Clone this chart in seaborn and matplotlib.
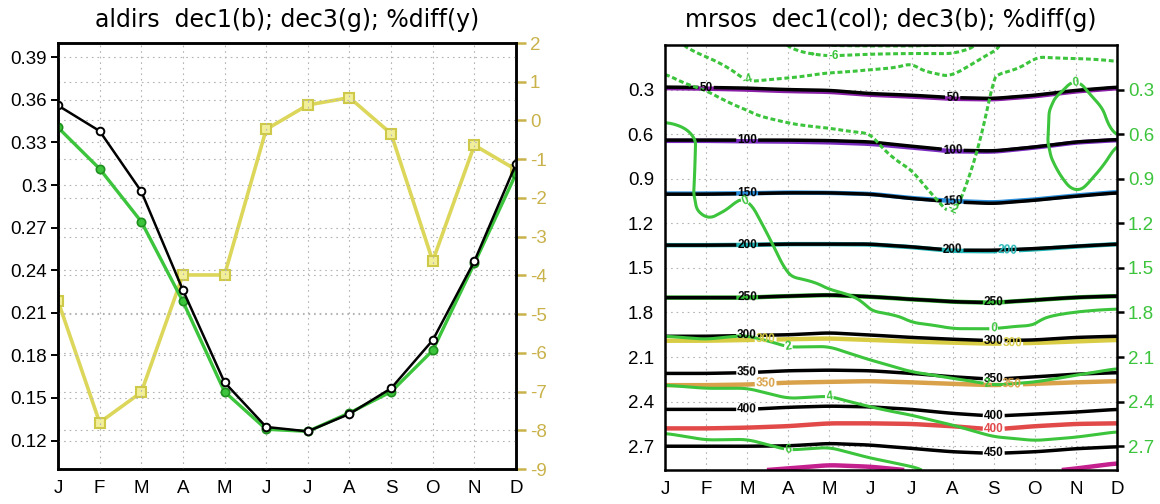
import numpy as np
import pandas as pd
import seaborn as sns
import matplotlib
matplotlib.use("Agg")
import matplotlib.pyplot as plt

# ---------------- data ----------------
months = ["J", "F", "M", "A", "M", "J", "J", "A", "S", "O", "N", "D"]

# left panel: aldirs
aldirs_dec1 = [0.356, 0.338, 0.2955, 0.226, 0.161, 0.1296, 0.1265, 0.1388, 0.1568, 0.1907, 0.2463, 0.3149]
aldirs_dec3 = [0.3405, 0.3114, 0.2742, 0.218, 0.1544, 0.128, 0.1265, 0.1395, 0.1544, 0.1835, 0.2448, 0.3079]
aldirs_pctdiff = [-4.66, -7.80, -7.02, -3.99, -3.99, -0.23, 0.40, 0.59, -0.34, -3.63, -0.64, -1.27]
left_yticks = [0.12, 0.15, 0.18, 0.21, 0.24, 0.27, 0.30, 0.33, 0.36, 0.39]
right_yticks = [-9, -8, -7, -6, -5, -4, -3, -2, -1, 0, 1, 2]

# right panel: mrsos contour levels and the depth at which each level lies, per month
mrsos_levels = [50, 100, 150, 200, 250, 300, 350, 400, 450]
dec3_depth = [
    [0.283, 0.285, 0.290, 0.300, 0.305, 0.327, 0.338, 0.354, 0.360, 0.338, 0.305, 0.283],
    [0.640, 0.640, 0.640, 0.640, 0.643, 0.652, 0.681, 0.708, 0.713, 0.686, 0.652, 0.636],
    [1.004, 1.004, 1.000, 0.995, 0.995, 1.004, 1.033, 1.056, 1.067, 1.045, 1.018, 0.995],
    [1.347, 1.347, 1.345, 1.340, 1.340, 1.340, 1.358, 1.381, 1.381, 1.370, 1.354, 1.340],
    [1.700, 1.700, 1.700, 1.690, 1.683, 1.695, 1.712, 1.728, 1.735, 1.717, 1.699, 1.690],
    [1.960, 1.960, 1.955, 1.950, 1.937, 1.952, 1.968, 1.980, 1.990, 1.985, 1.968, 1.960],
    [2.210, 2.210, 2.205, 2.192, 2.188, 2.192, 2.210, 2.233, 2.250, 2.233, 2.215, 2.205],
    [2.452, 2.452, 2.452, 2.438, 2.430, 2.435, 2.452, 2.479, 2.497, 2.484, 2.470, 2.452],
    [2.700, 2.700, 2.700, 2.697, 2.681, 2.692, 2.714, 2.737, 2.748, 2.737, 2.716, 2.703],
]
dec1_depth = [
    [0.290, 0.293, 0.300, 0.310, 0.315, 0.335, 0.347, 0.362, 0.366, 0.345, 0.312, 0.290],
    [0.645, 0.645, 0.648, 0.650, 0.655, 0.665, 0.690, 0.716, 0.718, 0.690, 0.656, 0.640],
    [1.000, 1.000, 0.998, 0.993, 0.995, 1.002, 1.030, 1.050, 1.060, 1.040, 1.013, 0.990],
    [1.347, 1.347, 1.345, 1.340, 1.340, 1.342, 1.360, 1.385, 1.388, 1.375, 1.356, 1.340],
    [1.700, 1.700, 1.700, 1.690, 1.683, 1.695, 1.712, 1.728, 1.735, 1.717, 1.699, 1.690],
    [1.990, 1.990, 1.985, 1.980, 1.975, 1.985, 1.995, 2.003, 2.010, 2.005, 1.995, 1.985],
    [2.289, 2.289, 2.285, 2.272, 2.267, 2.262, 2.270, 2.280, 2.289, 2.280, 2.270, 2.262],
    [2.580, 2.580, 2.575, 2.565, 2.546, 2.546, 2.550, 2.565, 2.587, 2.565, 2.550, 2.546],
    [2.900, 2.890, 2.870, 2.849, 2.827, 2.838, 2.865, 2.900, 2.920, 2.880, 2.850, 2.815],
]
dec1_colors = ["#8a1fa8", "#7a2cc0", "#2a8fdc", "#1fb3b3", "#35c035",
               "#d9cc45", "#d9a24a", "#e24a4a", "#c4208e"]

# %diff profiles: (depth, value) knots per month
pdiff_J = [(0, -3.4), (0.19, -2), (0.52, 0), (0.65, 0.8), (1.0, 0.5), (1.968, 2), (2.289, 4), (2.613, 6), (2.86, 7.5)]
pdiff_F = [(0, -4.8), (0.08, -4), (0.305, -2), (0.5, -0.3), (1.1, -0.2), (1.18, 0), (1.986, 2), (2.31, 4), (2.658, 6), (2.86, 7.2)]
pdiff_M = [(0, -5.5), (0.25, -4), (0.44, -2), (1.022, 0), (1.96, 2), (2.31, 4), (2.654, 6), (2.86, 7.2)]
pdiff_A = [(0, -6.0), (0.22, -4), (0.518, -2), (1.56, 0), (2.035, 2), (2.378, 4), (2.726, 6), (2.86, 6.8)]
pdiff_May = [(0, -8.2), (0.01, -8), (0.07, -6), (0.18, -4), (0.553, -2), (1.65, 0), (2.03, 2), (2.363, 4), (2.708, 6), (2.86, 6.9)]
pdiff_Jun = [(0, -8.3), (0.013, -8), (0.057, -6), (0.157, -4), (0.59, -2), (1.796, 0), (2.12, 2), (2.434, 4), (2.78, 6), (2.86, 6.5)]
pdiff_Jul = [(0, -8.3), (0.013, -8), (0.057, -6), (0.103, -4), (0.84, -2), (1.874, 0), (2.2, 2), (2.49, 4), (2.838, 6), (2.86, 6.15)]
pdiff_Aug = [(0, -8.1), (0.012, -8), (0.05, -6), (0.204, -4), (1.157, -2), (1.914, 0), (2.244, 2), (2.557, 4), (2.86, 5.7)]
pdiff_S = [(0, -4.3), (0.04, -4), (0.2, -2), (1.0, -1.0), (1.919, 0), (2.289, 2), (2.636, 4), (2.86, 5.3)]
pdiff_O = [(0, -2.4), (0.08, -2), (0.35, -0.6), (0.65, -0.4), (1.0, -0.8), (1.896, 0), (2.267, 2), (2.663, 4), (2.86, 5.2)]
pdiff_N = [(0, -2.4), (0.1, -2), (0.215, 0), (0.45, 1.0), (0.75, 0.8), (0.998, 0), (1.4, -0.5), (1.806, 0), (2.222, 2), (2.64, 4), (2.86, 5.2)]
pdiff_D = [(0, -2.4), (0.115, -2), (0.4, -0.6), (0.64, 0.05), (0.9, -0.5), (1.3, -0.8), (1.784, 0), (2.177, 2), (2.603, 4), (2.86, 5.3)]
pdiff_levels = [-8, -6, -4, -2, 0, 2, 4, 6]
depth_ticks = [0.3, 0.6, 0.9, 1.2, 1.5, 1.8, 2.1, 2.4, 2.7]

# ---------------- style ----------------
sns.set_style("white")
plt.rcParams["font.family"] = ["Liberation Sans", "DejaVu Sans"]
plt.rcParams["text.color"] = "black"
plt.rcParams["xtick.color"] = "black"
plt.rcParams["ytick.color"] = "black"
plt.rcParams["xtick.labelcolor"] = "black"
plt.rcParams["ytick.labelcolor"] = "black"

YEL = "#dcd75a"
YEL_TXT = "#c9b24a"
GRN = "#3cc43c"
GRID = dict(color="#b4b4b4", linestyle=(0, (1.5, 3.5)), linewidth=0.8)

fig = plt.figure(figsize=(11.6, 5.04), dpi=100)
axL = fig.add_axes([58 / 1160, 35 / 504, 458 / 1160, 426 / 504])
axR = fig.add_axes([665 / 1160, 34 / 504, 452 / 1160, 425 / 504])

mo = np.arange(12)

# ---------------- left panel ----------------
ax2 = axL.twinx()
axL.set_zorder(ax2.get_zorder() + 1)
axL.patch.set_visible(False)

df = pd.DataFrame({"m": mo, "dec1": aldirs_dec1, "dec3": aldirs_dec3, "pd": aldirs_pctdiff})
sns.lineplot(data=df, x="m", y="pd", ax=ax2, color=YEL, lw=2.6, marker="s",
             markersize=6.5, markerfacecolor="#f2ef9a", markeredgecolor="#cfc94a", markeredgewidth=1.5)
sns.lineplot(data=df, x="m", y="dec3", ax=axL, color=GRN, lw=2.4, marker="o",
             markersize=6, markerfacecolor=GRN, markeredgecolor="#1f8f1f", markeredgewidth=1.2)
sns.lineplot(data=df, x="m", y="dec1", ax=axL, color="black", lw=1.8, marker="o",
             markersize=5.5, markerfacecolor="white", markeredgecolor="black", markeredgewidth=1.4)

axL.set_xlim(0, 11)
axL.set_ylim(0.10, 0.40)
ax2.set_ylim(-9, 2)
axL.set_xticks(mo)
axL.set_xticklabels(months)
axL.set_yticks(left_yticks)
axL.set_yticklabels([f"{v:g}" for v in left_yticks])
ax2.set_yticks(right_yticks)
ax2.set_yticklabels([str(v) for v in right_yticks])
axL.set_xlabel("")
axL.set_ylabel("")
ax2.set_ylabel("")
axL.grid(True, **GRID)
ax2.grid(True, axis="y", **GRID)
ax2.grid(False, axis="x")
axL.tick_params(axis="both", direction="out", length=5, width=1.4, labelsize=13.5,
                colors="black", labelcolor="black", pad=3)
ax2.tick_params(axis="y", direction="out", length=7, width=1.8, labelsize=13.5,
                colors=YEL_TXT, labelcolor=YEL_TXT, pad=3)
for a in (axL, ax2):
    for s in a.spines.values():
        s.set_linewidth(1.8)
        s.set_color("black")

# ---------------- right panel ----------------
fine_m = np.linspace(0, 11, 221)
fine_d = np.linspace(0.0, 2.86, 287)


def smooth_rows(F, w):
    k = np.ones(w) / w
    pad = w // 2
    out = np.empty_like(F)
    for i in range(F.shape[0]):
        r = np.pad(F[i], pad, mode="edge")
        out[i] = np.convolve(r, k, mode="valid")
    return out


def level_field(depth_rows):
    D = np.array(depth_rows)
    cols = []
    for j in range(12):
        xp = np.concatenate([[0.0], D[:, j], [D[-1, j] + 0.3]])
        fp = np.concatenate([[0.0], mrsos_levels, [mrsos_levels[-1] + 50]])
        cols.append(np.interp(fine_d, xp, fp))
    C = np.array(cols).T
    F = np.array([np.interp(fine_m, mo, row) for row in C])
    return smooth_rows(F, 9)


def diff_field(profiles):
    cols = []
    for prof in profiles:
        xp = [p[0] for p in prof]
        fp = [p[1] for p in prof]
        cols.append(np.interp(fine_d, xp, fp))
    C = np.array(cols).T
    F = np.array([np.interp(fine_m, mo, row) for row in C])
    F = smooth_rows(F, 9)
    F = smooth_rows(F.T, 5).T
    return F


F1 = level_field(dec1_depth)
F3 = level_field(dec3_depth)
Fd = diff_field([pdiff_J, pdiff_F, pdiff_M, pdiff_A, pdiff_May, pdiff_Jun,
                 pdiff_Jul, pdiff_Aug, pdiff_S, pdiff_O, pdiff_N, pdiff_D])

cs1 = axR.contour(fine_m, fine_d, F1, levels=mrsos_levels, colors=dec1_colors, linewidths=3.2)
cs3 = axR.contour(fine_m, fine_d, F3, levels=mrsos_levels, colors="black", linewidths=2.5)
dstyles = [(0, (1.6, 0.9)) if l < 0 else "solid" for l in pdiff_levels]
csd = axR.contour(fine_m, fine_d, Fd, levels=pdiff_levels, colors=GRN, linewidths=2.2,
                  linestyles=dstyles)

lab_kw = dict(fmt="%d", fontsize=8.5, inline=True, inline_spacing=1)
t1 = axR.clabel(cs1, manual=[(8.35, 1.388), (2.45, 1.985), (8.45, 2.01), (2.45, 2.285),
                             (8.45, 2.289), (8.0, 2.587)], **lab_kw)
t3 = axR.clabel(cs3, manual=[(1, 0.285), (7, 0.354), (2, 0.64), (7, 0.708), (2, 1.0), (7, 1.056),
                             (2, 1.345), (7, 1.381), (2, 1.70), (8, 1.735), (2, 1.955), (8, 1.99),
                             (2, 2.205), (8, 2.25), (2, 2.452), (8, 2.497), (8, 2.748)], **lab_kw)
td = axR.clabel(csd, manual=[(4.1, 0.07), (2, 0.25), (7.1, 1.16), (2, 1.022), (10, 0.215),
                             (8, 1.919), (3, 2.035), (7.85, 2.289), (4, 2.363), (3, 2.726)], **lab_kw)
for t in list(t1) + list(t3) + list(td):
    t.set_fontweight("bold")

axR.set_xlim(0, 11)
axR.set_ylim(2.86, 0.0)
axR.set_xticks(mo)
axR.set_xticklabels(months)
axR.set_yticks(depth_ticks)
axR.set_yticklabels([f"{v:g}" for v in depth_ticks])
axR.grid(True, **GRID)
axR.tick_params(axis="both", direction="out", length=5, width=1.4, labelsize=13.5,
                colors="black", labelcolor="black", pad=3)
axR.tick_params(axis="y", right=True, labelright=True)
for tk in axR.yaxis.get_major_ticks():
    tk.label2.set_color(GRN)
    tk.tick2line.set_color(GRN)
    tk.tick2line.set_markeredgewidth(1.8)
for s in axR.spines.values():
    s.set_linewidth(1.8)
    s.set_color("black")

# ---------------- titles ----------------
fig.text((58 + 516) / 2 / 1160, 1 - 20 / 504, "aldirs  dec1(b); dec3(g); %diff(y)",
         ha="center", va="center", fontsize=17, color="black", family=["DejaVu Sans"])
fig.text((665 + 1117) / 2 / 1160, 1 - 20 / 504, "mrsos  dec1(col); dec3(b); %diff(g)",
         ha="center", va="center", fontsize=17, color="black", family=["DejaVu Sans"])

fig.savefig("out.png", dpi=100)
